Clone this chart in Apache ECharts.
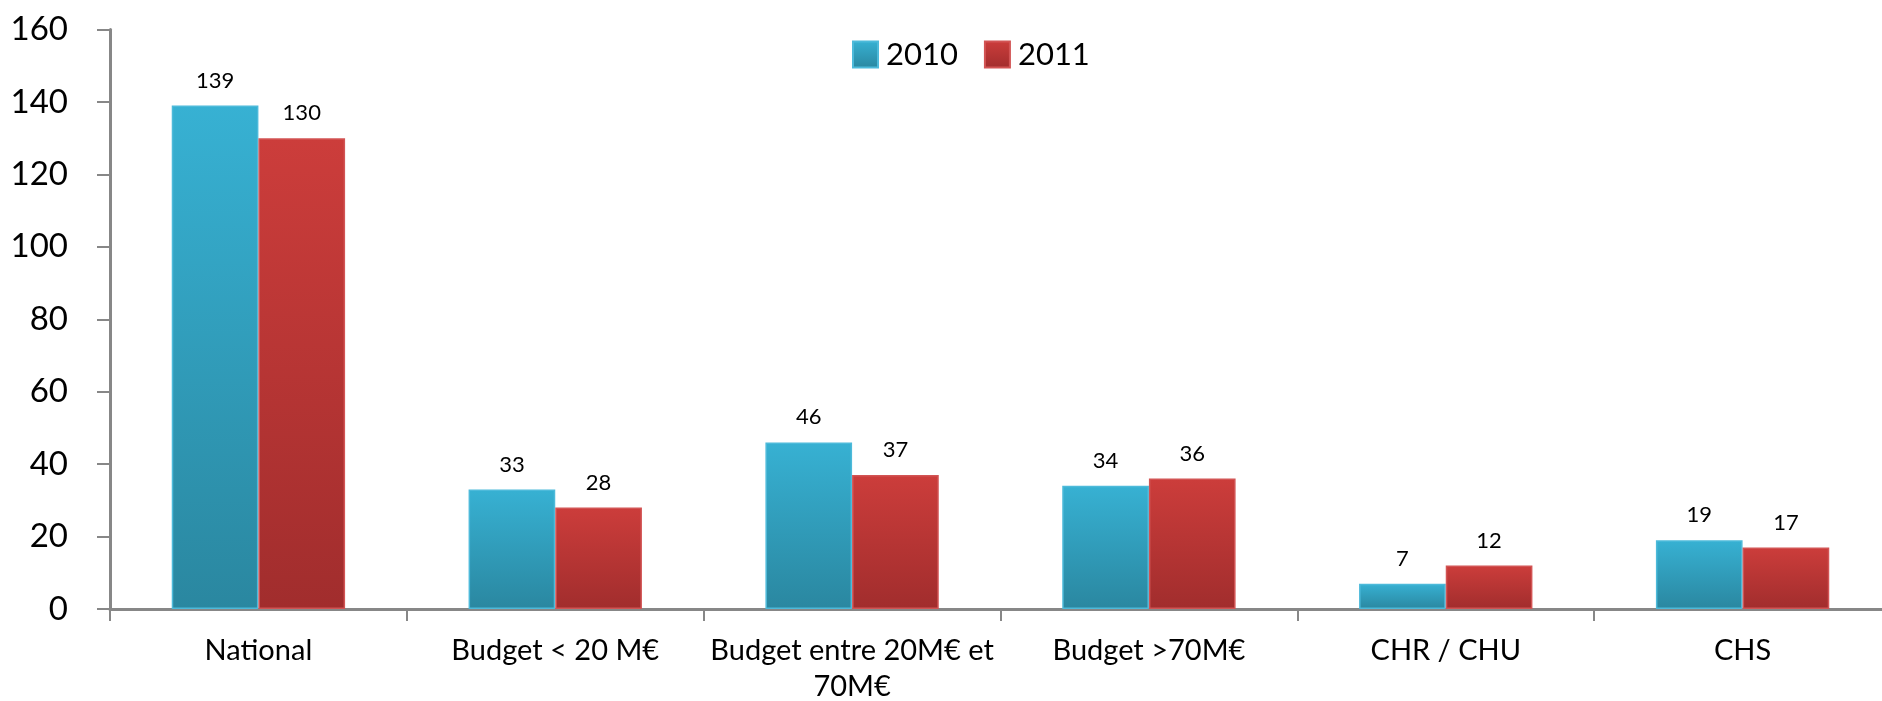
<!DOCTYPE html>
<html>
<head>
<meta charset="utf-8">
<script src="https://cdn.jsdelivr.net/npm/echarts@6/dist/echarts.min.js"></script>
<style>
html,body{margin:0;padding:0;background:#fff;}
#c{width:1882px;height:701px;}
</style>
</head>
<body>
<div id="c"></div>
<script>
const categories = ['National', 'Budget < 20 M€', 'Budget entre 20M€ et\n70M€', 'Budget >70M€', 'CHR / CHU', 'CHS'];
const seriesNames = ['2010', '2011'];
const values2010 = [139, 33, 46, 34, 7, 19];
const values2011 = [130, 28, 37, 36, 12, 17];
const yTicks = { min: 0, max: 160, interval: 20 };

const FONT = 'Lato';
function grad(top, bottom) {
  return new echarts.graphic.LinearGradient(0, 0, 0, 1, [
    { offset: 0, color: top }, { offset: 1, color: bottom }
  ]);
}
const chart = echarts.init(document.getElementById('c'), null, { renderer: 'canvas' });
const labelStyle = { show: true, position: 'top', distance: 14, fontFamily: FONT, fontSize: 22, color: '#000' };
chart.setOption({
  animation: false,
  backgroundColor: '#fff',
  textStyle: { fontFamily: FONT },
  legend: {
    data: seriesNames,
    icon: 'rect',
    top: 34,
    left: 847,
    itemWidth: 25,
    itemHeight: 26,
    itemGap: 26,
    textStyle: { fontFamily: FONT, fontSize: 31, color: '#000', padding: [0, 0, 0, 3] }
  },
  grid: { left: 110, top: 29.5, width: 1781, height: 579.5, containLabel: false, outerBoundsMode: 'none' },
  xAxis: {
    type: 'category',
    data: categories,
    axisLine: { lineStyle: { color: '#878787', width: 3 } },
    axisTick: { show: true, length: 12, lineStyle: { color: '#878787', width: 2 } },
    axisLabel: { fontFamily: FONT, fontSize: 29, lineHeight: 36, color: '#000', margin: 24, interval: 0 },
    splitLine: { show: false }
  },
  yAxis: {
    type: 'value',
    min: yTicks.min, max: yTicks.max, interval: yTicks.interval,
    axisLine: { show: true, lineStyle: { color: '#878787', width: 3 } },
    axisTick: { show: true, length: 13, lineStyle: { color: '#878787', width: 2 } },
    axisLabel: { fontFamily: FONT, fontSize: 33, color: '#000', margin: 42 },
    splitLine: { show: false }
  },
  series: [
    {
      name: seriesNames[0], type: 'bar', data: values2010,
      barWidth: '29.2%', barGap: '0%',
      itemStyle: { color: grad('#37B1D3', '#2A87A0'), borderColor: '#4DBADA', borderWidth: 1.5 },
      label: labelStyle
    },
    {
      name: seriesNames[1], type: 'bar', data: values2011,
      barWidth: '29.2%', barGap: '0%',
      itemStyle: { color: grad('#CC3D3B', '#A12D2D'), borderColor: '#D25454', borderWidth: 1.5 },
      label: labelStyle
    }
  ]
});
</script>
</body>
</html>
